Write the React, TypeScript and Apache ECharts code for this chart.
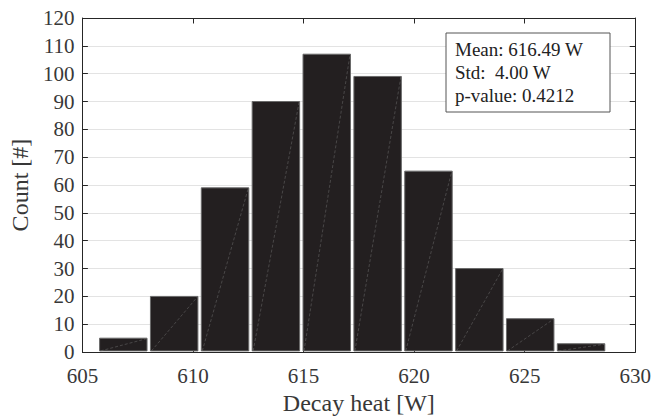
import React, { useEffect, useRef } from "react";
import * as echarts from "echarts";

const binEdges = [605.7, 608.0, 610.3, 612.6, 614.9, 617.2, 619.5, 621.8, 624.1, 626.4, 628.7];
const counts = [5, 20, 59, 90, 107, 99, 65, 30, 12, 3];
const statLines = ["Mean: 616.49 W", "Std:  4.00 W", "p-value: 0.4212"];
const xTitle = "Decay heat [W]";
const yTitle = "Count [#]";

const FONT = "'Liberation Serif', 'Times New Roman', serif";
const AXIS = "#262626";

export default function App() {
  const ref = useRef<HTMLDivElement>(null);
  useEffect(() => {
    document.body.style.margin = "0";
    if (!ref.current) return;
    const chart = echarts.init(ref.current, undefined, { renderer: "svg" });
    const data = counts.map((c, i) => [binEdges[i], binEdges[i + 1], c]);
    const tickCommon = { inside: true, length: 5.5, lineStyle: { color: AXIS, width: 1 } };
    chart.setOption({
      animation: false,
      backgroundColor: "#ffffff",
      grid: { left: 79, top: 18, width: 557, height: 338, containLabel: false },
      xAxis: [
        {
          type: "value",
          min: 605,
          max: 630,
          interval: 5,
          position: "bottom",
          axisLine: { show: true, onZero: false, lineStyle: { color: AXIS, width: 1 } },
          axisTick: tickCommon,
          axisLabel: { color: "#383838", fontFamily: FONT, fontSize: 21, margin: 13 },
          splitLine: { show: false },
          name: xTitle,
          nameLocation: "middle",
          nameGap: 38,
          nameTextStyle: { color: "#383838", fontFamily: FONT, fontSize: 24 },
        },
        {
          type: "value",
          min: 605,
          max: 630,
          interval: 5,
          position: "top",
          axisLine: { show: true, onZero: false, lineStyle: { color: AXIS, width: 1 } },
          axisTick: tickCommon,
          axisLabel: { show: false },
          splitLine: { show: false },
        },
      ],
      yAxis: [
        {
          type: "value",
          min: 0,
          max: 120,
          interval: 10,
          position: "left",
          axisLine: { show: true, onZero: false, lineStyle: { color: AXIS, width: 1 } },
          axisTick: tickCommon,
          axisLabel: { color: "#383838", fontFamily: FONT, fontSize: 21, margin: 8 },
          splitLine: { show: true, lineStyle: { color: "#e3e3e3", width: 1 } },
          name: yTitle,
          nameLocation: "middle",
          nameGap: 48,
          nameTextStyle: { color: "#383838", fontFamily: FONT, fontSize: 24 },
        },
        {
          type: "value",
          min: 0,
          max: 120,
          interval: 10,
          position: "right",
          axisLine: { show: true, onZero: false, lineStyle: { color: AXIS, width: 1 } },
          axisTick: tickCommon,
          axisLabel: { show: false },
          splitLine: { show: false },
        },
      ],
      series: [
        {
          type: "custom",
          xAxisIndex: 0,
          yAxisIndex: 0,
          data,
          renderItem: (params: any, api: any) => {
            const lo = api.value(0);
            const hi = api.value(1);
            const c = api.value(2);
            const p0 = api.coord([lo, 0]);
            const p1 = api.coord([hi, c]);
            const inset = 1.7;
            const x0 = p0[0] + inset;
            const x1 = p1[0] - inset;
            const yb = p0[1] - 1.2;
            const yt = p1[1];
            return {
              type: "group",
              children: [
                {
                  type: "rect",
                  shape: { x: x0, y: yt, width: x1 - x0, height: yb - yt },
                  style: { fill: "#231f20", stroke: "#6a6a6a", lineWidth: 1 },
                },
                {
                  type: "line",
                  shape: { x1: x0 + 1, y1: yb, x2: x1 - 0.5, y2: yt + 0.5 },
                  style: { stroke: "#6e6e6e", lineWidth: 0.5, lineDash: [3, 2] },
                },
              ],
            };
          },
        },
      ],
      graphic: [
        {
          type: "rect",
          shape: { x: 446, y: 33, width: 164, height: 79 },
          style: { fill: "#ffffff", stroke: "#555555", lineWidth: 1 },
          z: 100,
        },
        ...statLines.map((t, i) => ({
          type: "text",
          x: 455,
          y: 49.5 + i * 22.8,
          z: 101,
          style: {
            text: t,
            fill: "#222",
            font: `19px ${FONT}`,
            verticalAlign: "middle",
            align: "left",
          },
        })),
      ],
    });
    return () => chart.dispose();
  }, []);
  return <div ref={ref} style={{ width: 654, height: 420 }} />;
}
